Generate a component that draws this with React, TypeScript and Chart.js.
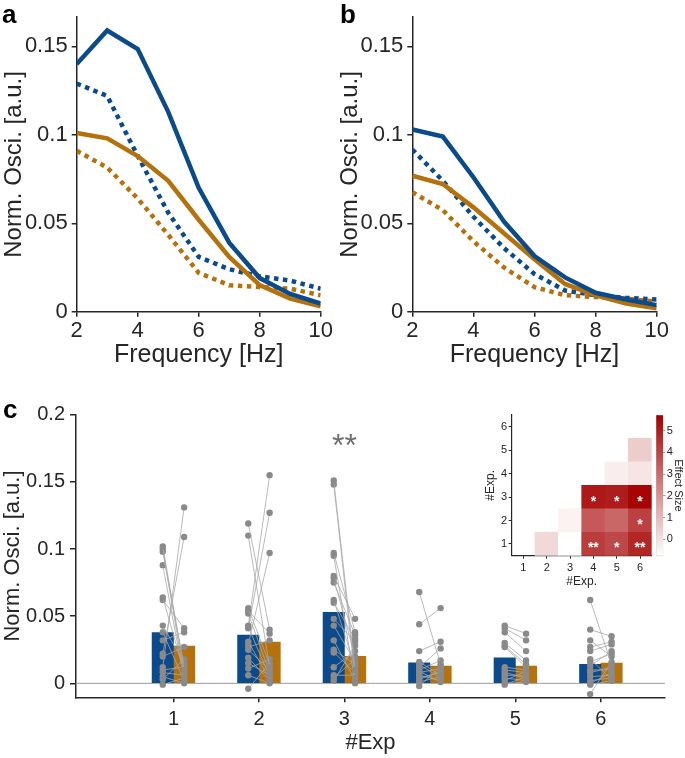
import React, { useEffect, useRef } from 'react';
import { Chart, registerables } from 'chart.js';

Chart.register(...registerables);

const FONT = "'Liberation Sans', Arial, Helvetica, sans-serif";
const INK = '#262626';
const BLUE = '#0b4a8b';
const ORANGE = '#b5710b';
const DOT = '#8a8a8a';
const PAIR_LINE = '#a8a8a8';

// ---------- panels a / b ----------
const freqHz = [2, 3, 4, 5, 6, 7, 8, 9, 10];
const freqTicks = [2, 4, 6, 8, 10];
const specTicks = [0, 0.05, 0.1, 0.15];
const aBlueSolid = [0.14, 0.159, 0.1485, 0.113, 0.07, 0.039, 0.019, 0.01, 0.0046];
const aBlueDotted = [0.129, 0.122, 0.088, 0.056, 0.031, 0.024, 0.02, 0.0176, 0.013];
const aOrangeSolid = [0.101, 0.098, 0.088, 0.074, 0.052, 0.031, 0.015, 0.0074, 0.003];
const aOrangeDotted = [0.091, 0.0815, 0.064, 0.0435, 0.022, 0.015, 0.014, 0.013, 0.0093];
const bBlueSolid = [0.103, 0.099, 0.076, 0.051, 0.0315, 0.0194, 0.0107, 0.0069, 0.0037];
const bBlueDotted = [0.0917, 0.074, 0.0537, 0.036, 0.0213, 0.012, 0.0093, 0.0078, 0.0069];
const bOrangeSolid = [0.0769, 0.0722, 0.059, 0.0444, 0.0296, 0.0157, 0.0093, 0.0046, 0.0019];
const bOrangeDotted = [0.0676, 0.0574, 0.0398, 0.025, 0.0139, 0.0093, 0.0083, 0.0074, 0.0056];

// ---------- panel c ----------
const expGroups = [1, 2, 3, 4, 5, 6];
const expTicks = [1, 2, 3, 4, 5, 6];
const oscTicks = [0, 0.05, 0.1, 0.15, 0.2];
const barBlue = [0.0377, 0.036, 0.0529, 0.0153, 0.019, 0.0141];
const barOrange = [0.0278, 0.0307, 0.0201, 0.0129, 0.0129, 0.0151];

const g1Blue = [0.102, 0.1, 0.098, 0.088, 0.064, 0.062, 0.043, 0.038, 0.032, 0.022, 0.02, 0.012, 0.01, 0.008, 0.005, 0.003, -0.001];
const g1Orange = [0.01, 0.005, 0.013, 0.003, 0.008, 0.041, 0.015, 0.002, 0.038, 0.109, 0.027, 0.131, 0.012, 0.006, 0.0, 0.018, 0.004];
const g2Blue = [0.119, 0.11, 0.056, 0.054, 0.052, 0.043, 0.042, 0.041, 0.031, 0.029, 0.027, 0.025, 0.019, 0.015, 0.011, 0.006, -0.004];
const g2Orange = [0.04, 0.012, 0.014, 0.037, 0.008, 0.155, 0.005, 0.127, 0.003, 0.097, 0.032, 0.01, 0.002, 0.006, 0.018, 0.0, 0.015];
const g3Blue = [0.151, 0.148, 0.097, 0.095, 0.08, 0.078, 0.075, 0.062, 0.06, 0.048, 0.043, 0.032, 0.025, 0.023, 0.012, 0.006, 0.004, 0.002];
const g3Orange = [0.01, 0.004, 0.038, 0.0, 0.048, 0.02, 0.036, 0.012, 0.033, 0.031, 0.016, 0.002, 0.014, 0.008, 0.024, 0.006, 0.018, 0.028];
const g4Blue = [0.068, 0.044, 0.024, 0.012, 0.01, 0.008, 0.006, 0.004, 0.001, -0.002, 0.014, 0.009, 0.003, 0.016];
const g4Orange = [0.014, 0.056, 0.031, 0.026, 0.017, 0.011, 0.002, 0.008, 0.005, 0.012, 0.004, 0.001, 0.009, 0.006];
const g5Blue = [0.043, 0.041, 0.038, 0.03, 0.028, 0.027, 0.012, 0.01, 0.008, 0.006, 0.004, 0.002, 0.0, -0.001];
const g5Orange = [0.037, 0.032, 0.024, 0.017, 0.014, 0.012, 0.01, 0.008, 0.004, 0.006, 0.002, 0.009, 0.001, 0.005];
const g6Blue = [0.062, 0.04, 0.032, 0.027, 0.024, 0.016, 0.013, 0.01, 0.008, 0.005, 0.002, 0.0, -0.001, -0.008, 0.018];
const g6Orange = [0.014, 0.035, 0.02, 0.031, 0.029, 0.022, 0.024, 0.01, 0.012, 0.006, 0.004, 0.008, 0.002, 0.016, 0.003];

const sigGroups = [3];
const sigLabels = ['**'];
const sigLevels = [0.169];

// ---------- inset heat map ----------
const heatCols = ['1', '2', '3', '4', '5', '6'];
const heatRows = [1, 2, 3, 4, 5];
const effRow1 = [null, 0.21, -0.76, 4.2, 3.9, 4.75];
const effRow2 = [null, null, -0.44, 3.45, 3.1, 4.1];
const effRow3 = [null, null, null, 5.1, 5.0, 5.6];
const effRow4 = [null, null, null, null, -0.3, -0.1];
const effRow5 = [null, null, null, null, null, 0.54];
const sigRow1 = ['', '', '', '**', '*', '**'];
const sigRow2 = ['', '', '', '', '', '*'];
const sigRow3 = ['', '', '', '*', '*', '*'];
const sigRow4 = ['', '', '', '', '', ''];
const sigRow5 = ['', '', '', '', '', ''];
const cbMin = -0.76;
const cbMax = 5.72;
const cbTicks = [0, 1, 2, 3, 4, 5];

const fmt = (v: number) => String(Math.round(v * 1000) / 1000);

function effectColor(v: number) {
  const t = Math.max(0, Math.min(1, (v - cbMin) / (cbMax - cbMin)));
  const r = Math.round(255 + (165 - 255) * t);
  const g = Math.round(255 * (1 - t));
  const b = Math.round(255 * (1 - t));
  return `rgb(${r},${g},${b})`;
}

function fixTicks(values: number[]) {
  return (scale: any) => {
    scale.ticks = values.map((v) => ({ value: v }));
  };
}

function spectrumConfig(series: { vals: number[]; color: string; dotted: boolean }[], yWidth: number, padRight: number) {
  return {
    type: 'line',
    data: {
      datasets: series.map((s) => ({
        data: freqHz.map((f, i) => ({ x: f, y: s.vals[i] })),
        borderColor: s.color,
        borderWidth: 4.5,
        borderDash: s.dotted ? [4.5, 4.5] : [],
        borderCapStyle: 'butt',
        pointRadius: 0,
        tension: 0,
      })),
    },
    options: {
      animation: false,
      responsive: false,
      maintainAspectRatio: false,
      layout: { padding: { left: 0, right: padRight, top: 13, bottom: 0 } },
      plugins: { legend: { display: false }, tooltip: { enabled: false } },
      scales: {
        x: {
          type: 'linear',
          min: 2,
          max: 10,
          afterBuildTicks: fixTicks(freqTicks),
          ticks: { font: { family: FONT, size: 22 }, color: INK, padding: 1, callback: (v: any) => fmt(Number(v)) },
          grid: { drawOnChartArea: false, tickLength: 5, color: INK, lineWidth: 1.5 },
          border: { color: INK, width: 1.5 },
          title: { display: true, text: 'Frequency [Hz]', font: { family: FONT, size: 25 }, color: INK, padding: 0 },
          afterFit: (s: any) => { s.height = 58.3; },
        },
        y: {
          type: 'linear',
          min: 0,
          max: 0.1665,
          afterBuildTicks: fixTicks(specTicks),
          ticks: { font: { family: FONT, size: 22 }, color: INK, padding: 4, callback: (v: any) => fmt(Number(v)) },
          grid: { drawOnChartArea: false, tickLength: 5, color: INK, lineWidth: 1.5 },
          border: { color: INK, width: 1.5 },
          title: { display: true, text: 'Norm. Osci. [a.u.]', font: { family: FONT, size: 24 }, color: INK, padding: 0 },
          afterFit: (s: any) => { s.width = yWidth; },
        },
      },
    },
  };
}

const zeroLinePlugin = {
  id: 'zeroLine',
  beforeDatasetsDraw(chart: any) {
    const { ctx, chartArea, scales } = chart;
    const y = scales.y.getPixelForValue(0);
    ctx.save();
    ctx.strokeStyle = '#9a9a9a';
    ctx.lineWidth = 1;
    ctx.beginPath();
    ctx.moveTo(chartArea.left, y);
    ctx.lineTo(chartArea.right, y);
    ctx.stroke();
    ctx.restore();
  },
};

const sigPlugin = {
  id: 'sigMarks',
  afterDatasetsDraw(chart: any) {
    const { ctx, scales } = chart;
    ctx.save();
    ctx.fillStyle = '#6e6e6e';
    ctx.font = `32px ${FONT}`;
    ctx.textAlign = 'center';
    ctx.textBaseline = 'alphabetic';
    sigGroups.forEach((g, i) => {
      ctx.fillText(sigLabels[i], scales.x.getPixelForValue(g), scales.y.getPixelForValue(sigLevels[i]));
    });
    ctx.restore();
  },
};

function barsConfig() {
  const groupBlue = [g1Blue, g2Blue, g3Blue, g4Blue, g5Blue, g6Blue];
  const groupOrange = [g1Orange, g2Orange, g3Orange, g4Orange, g5Orange, g6Orange];
  const pairSets: any[] = [];
  expGroups.forEach((g, gi) => {
    groupBlue[gi].forEach((b, k) => {
      pairSets.push({
        type: 'line',
        data: [
          { x: g - 0.125, y: b },
          { x: g + 0.125, y: groupOrange[gi][k] },
        ],
        borderColor: PAIR_LINE,
        borderWidth: 0.8,
        pointRadius: 3.2,
        pointBackgroundColor: DOT,
        pointBorderWidth: 0,
        tension: 0,
        order: 1,
      });
    });
  });
  return {
    type: 'bar',
    data: {
      datasets: [
        ...pairSets,
        {
          type: 'bar',
          data: expGroups.map((g, i) => ({ x: g - 0.125, y: barBlue[i] })),
          backgroundColor: BLUE,
          grouped: false,
          barPercentage: 1,
          categoryPercentage: 1,
          order: 5,
        },
        {
          type: 'bar',
          data: expGroups.map((g, i) => ({ x: g + 0.125, y: barOrange[i] })),
          backgroundColor: ORANGE,
          grouped: false,
          barPercentage: 1,
          categoryPercentage: 1,
          order: 5,
        },
      ],
    },
    plugins: [zeroLinePlugin, sigPlugin],
    options: {
      animation: false,
      responsive: false,
      maintainAspectRatio: false,
      layout: { padding: { left: 0, right: 20, top: 34.7, bottom: 0 } },
      plugins: { legend: { display: false }, tooltip: { enabled: false } },
      scales: {
        x: {
          type: 'linear',
          min: -0.14,
          max: 6.75,
          offset: false,
          afterBuildTicks: fixTicks(expTicks),
          ticks: { font: { family: FONT, size: 20 }, color: INK, padding: 5, callback: (v: any) => fmt(Number(v)) },
          grid: { drawOnChartArea: false, offset: false, tickLength: 5, color: INK, lineWidth: 1.5 },
          border: { color: INK, width: 1.5 },
          title: { display: true, text: '#Exp', font: { family: FONT, size: 22 }, color: INK, padding: { top: 0, bottom: 2 } },
          afterFit: (s: any) => { s.height = 60.7; },
        },
        y: {
          type: 'linear',
          min: -0.0104,
          max: 0.2,
          afterBuildTicks: fixTicks(oscTicks),
          ticks: { font: { family: FONT, size: 20 }, color: INK, padding: 5, callback: (v: any) => fmt(Number(v)) },
          grid: { drawOnChartArea: false, tickLength: 6, color: INK, lineWidth: 1.5 },
          border: { color: INK, width: 1.5 },
          title: { display: true, text: 'Norm. Osci. [a.u.]', font: { family: FONT, size: 22 }, color: INK, padding: 0 },
          afterFit: (s: any) => { s.width = 76; },
        },
      },
    },
  };
}

const heatStarsPlugin = {
  id: 'heatStars',
  afterDatasetsDraw(chart: any) {
    const { ctx, scales } = chart;
    const sigRows = [sigRow1, sigRow2, sigRow3, sigRow4, sigRow5];
    ctx.save();
    ctx.fillStyle = '#ffffff';
    ctx.font = `bold 14px ${FONT}`;
    ctx.textAlign = 'center';
    ctx.textBaseline = 'alphabetic';
    heatRows.forEach((r, ri) => {
      sigRows[ri].forEach((s, ci) => {
        if (!s) return;
        const x = scales.x.getPixelForValue(ci);
        const y = scales.y.getPixelForValue(r);
        ctx.fillText(s, x, y + 8.5);
      });
    });
    ctx.restore();
  },
};

function heatConfig() {
  const effRows = [effRow1, effRow2, effRow3, effRow4, effRow5];
  return {
    type: 'bar',
    data: {
      labels: heatCols,
      datasets: heatRows.map((r, ri) => ({
        data: effRows[ri].map((v) => (v === null ? null : [r - 0.5, r + 0.5])),
        backgroundColor: effRows[ri].map((v) => (v === null ? 'rgba(0,0,0,0)' : effectColor(v))),
        grouped: false,
        barPercentage: 1,
        categoryPercentage: 1,
        borderWidth: 0,
      })),
    },
    plugins: [heatStarsPlugin],
    options: {
      animation: false,
      responsive: false,
      maintainAspectRatio: false,
      layout: { padding: { left: 0, right: 0.3, top: 20, bottom: 0 } },
      plugins: { legend: { display: false }, tooltip: { enabled: false } },
      scales: {
        x: {
          type: 'category',
          ticks: { font: { family: FONT, size: 11 }, color: INK, padding: 3 },
          grid: { drawOnChartArea: false, tickLength: 3, color: INK, lineWidth: 1, offset: false },
          border: { color: INK, width: 1.2 },
          title: { display: true, text: '#Exp.', font: { family: FONT, size: 12 }, color: INK, padding: { top: 0, bottom: 1.1 } },
          afterFit: (s: any) => { s.height = 34.3; },
        },
        y: {
          type: 'linear',
          min: 0.5,
          max: 6.5,
          afterBuildTicks: fixTicks(expTicks),
          ticks: { font: { family: FONT, size: 11 }, color: INK, padding: 1.5, callback: (v: any) => fmt(Number(v)) },
          grid: { drawOnChartArea: false, tickLength: 3, color: INK, lineWidth: 1 },
          border: { color: INK, width: 1.2 },
          title: { display: true, text: '#Exp.', font: { family: FONT, size: 12 }, color: INK, padding: { top: 13.8, bottom: 0 } },
          afterFit: (s: any) => { s.width = 41.7; },
        },
      },
    },
  };
}

function colorbarConfig() {
  return {
    type: 'bar',
    data: {
      labels: [''],
      datasets: [
        {
          data: [[cbMin, cbMax]],
          backgroundColor: (c: any) => {
            const area = c.chart.chartArea;
            if (!area) return effectColor(cbMax);
            const grad = c.chart.ctx.createLinearGradient(0, area.bottom, 0, area.top);
            grad.addColorStop(0, effectColor(cbMin));
            grad.addColorStop(1, effectColor(cbMax));
            return grad;
          },
          borderColor: '#c8c8c8',
          borderWidth: 0.6,
          borderSkipped: false,
          barPercentage: 1,
          categoryPercentage: 1,
        },
      ],
    },
    options: {
      animation: false,
      responsive: false,
      maintainAspectRatio: false,
      layout: { padding: { left: 16, right: 0, top: 20, bottom: 20.3 } },
      plugins: { legend: { display: false }, tooltip: { enabled: false } },
      scales: {
        x: { display: false },
        y: {
          type: 'linear',
          position: 'right',
          min: cbMin,
          max: cbMax,
          afterBuildTicks: fixTicks(cbTicks),
          ticks: { font: { family: FONT, size: 11 }, color: INK, padding: 1.5, callback: (v: any) => fmt(Number(v)) },
          grid: { drawOnChartArea: false, tickLength: 2, color: '#888', lineWidth: 0.8 },
          border: { display: false },
          title: { display: true, text: 'Effect Size', font: { family: FONT, size: 11 }, color: INK, padding: 0 },
          afterFit: (s: any) => { s.width = 21.7; },
        },
      },
    },
  };
}

function ChartBox(props: { left: number; top: number; width: number; height: number; make: () => any }) {
  const ref = useRef<HTMLCanvasElement | null>(null);
  useEffect(() => {
    if (!ref.current) return;
    const chart = new Chart(ref.current, props.make());
    return () => chart.destroy();
  }, []);
  return (
    <canvas
      ref={ref}
      width={props.width}
      height={props.height}
      style={{ position: 'absolute', left: props.left, top: props.top, width: props.width, height: props.height }}
    />
  );
}

const labelStyle = (left: number, top: number): React.CSSProperties => ({
  position: 'absolute',
  left,
  top,
  font: `bold 26px ${FONT}`,
  lineHeight: '26px',
  color: '#000',
});

export default function App() {
  return (
    <div style={{ position: 'absolute', left: 0, top: 0, width: 685, height: 758, background: '#fff', overflow: 'hidden' }}>
      <ChartBox
        left={0}
        top={0}
        width={340}
        height={370}
        make={() =>
          spectrumConfig(
            [
              { vals: aBlueSolid, color: BLUE, dotted: false },
              { vals: aOrangeSolid, color: ORANGE, dotted: false },
              { vals: aBlueDotted, color: BLUE, dotted: true },
              { vals: aOrangeDotted, color: ORANGE, dotted: true },
            ],
            76.7,
            19.3
          )
        }
      />
      <ChartBox
        left={336}
        top={0}
        width={345}
        height={370}
        make={() =>
          spectrumConfig(
            [
              { vals: bBlueSolid, color: BLUE, dotted: false },
              { vals: bOrangeSolid, color: ORANGE, dotted: false },
              { vals: bBlueDotted, color: BLUE, dotted: true },
              { vals: bOrangeDotted, color: ORANGE, dotted: true },
            ],
            76.3,
            24.3
          )
        }
      />
      <ChartBox left={0} top={380} width={685} height={378} make={barsConfig} />
      <ChartBox left={470} top={395} width={182} height={195} make={heatConfig} />
      <ChartBox left={640} top={395} width={45} height={181} make={colorbarConfig} />
      <div style={labelStyle(2, 1)}>a</div>
      <div style={labelStyle(340, 1)}>b</div>
      <div style={labelStyle(3, 396)}>c</div>
    </div>
  );
}
